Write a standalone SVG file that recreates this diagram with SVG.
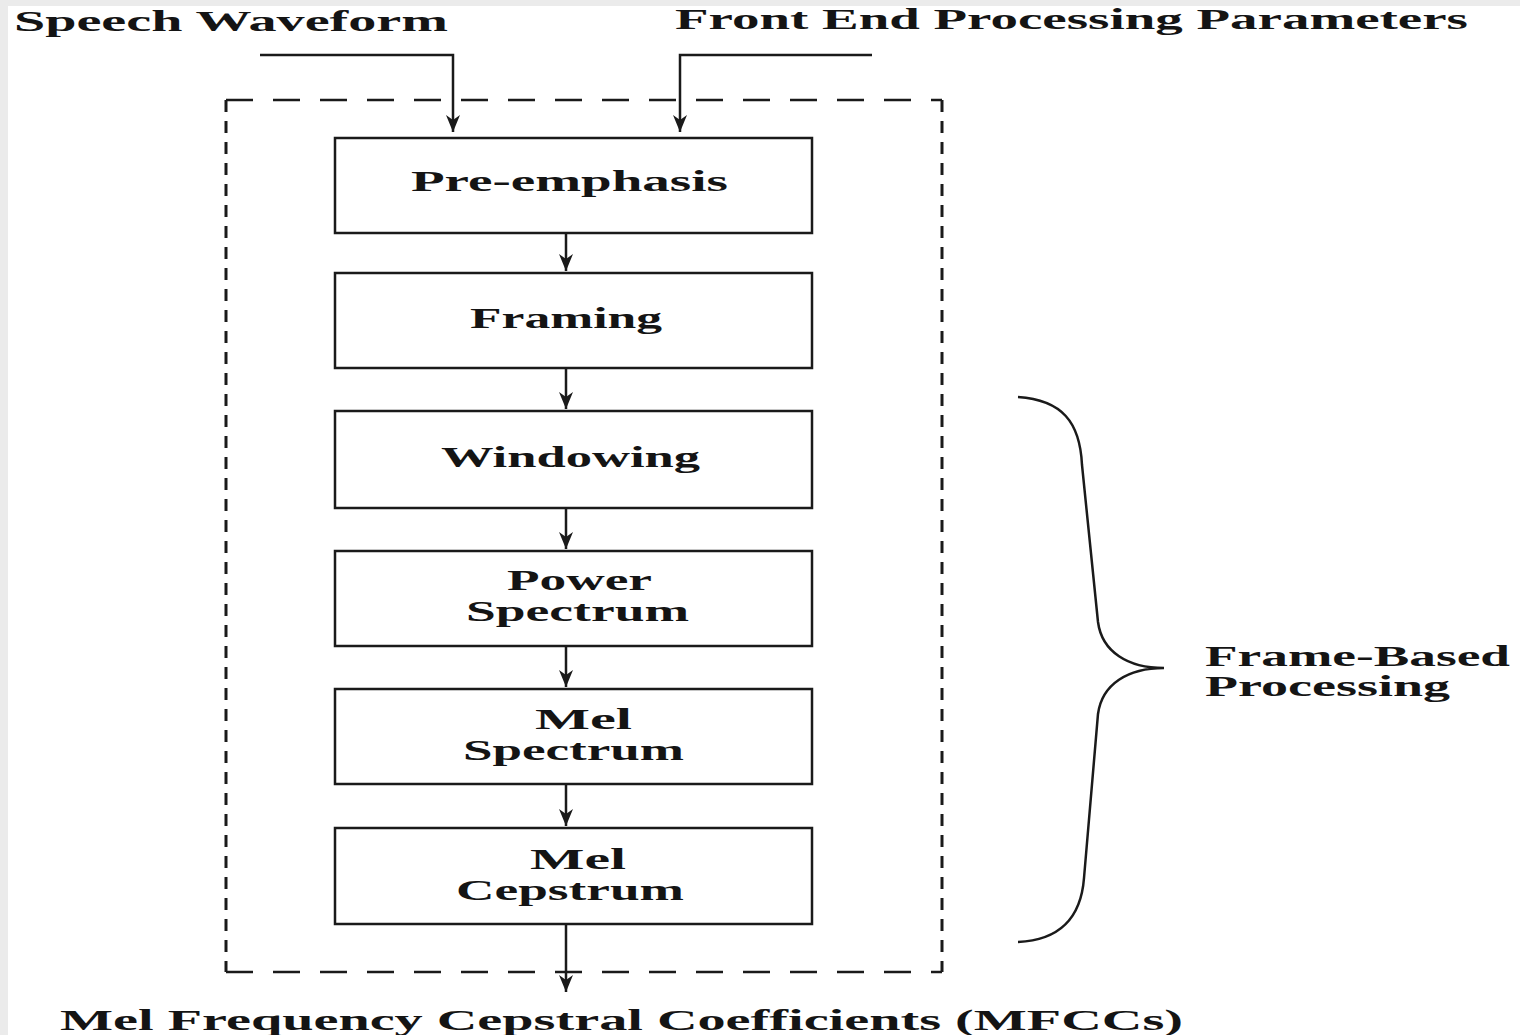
<svg xmlns="http://www.w3.org/2000/svg" width="1520" height="1035" viewBox="0 0 1520 1035">
  <style>
    .lbl { font-family: "Liberation Serif", "Times New Roman", serif; font-weight: bold; fill: #141414; }
    .box { fill: #ffffff; stroke: #1a1a1a; stroke-width: 2.5; }
    .wire { fill: none; stroke: #1a1a1a; stroke-width: 2.5; }
    .dashH { fill: none; stroke: #1a1a1a; stroke-width: 2.5; stroke-dasharray: 27 20; }
    .dashV { fill: none; stroke: #1a1a1a; stroke-width: 3; stroke-dasharray: 12 9; }
    .brace { fill: none; stroke: #1a1a1a; stroke-width: 2.5; }
  </style>
  <defs>
    <marker id="arrow" markerUnits="userSpaceOnUse" markerWidth="17" markerHeight="14" viewBox="0 0 17 14" refX="17" refY="7" orient="auto">
      <path d="M0,0 L17,7 L0,14 L5,7 Z" fill="#1a1a1a"/>
    </marker>
  </defs>

  <rect x="0" y="0" width="1520" height="1035" fill="#ffffff"/>
  <!-- pale margin strips along the top and left edges -->
  <rect x="0" y="0" width="1520" height="6" fill="#ebebeb"/>
  <rect x="0" y="0" width="8" height="1035" fill="#ebebeb"/>

  <!-- input / output labels -->
  <g id="inputs">
    <text class="lbl" x="14" y="31" font-size="29" textLength="434" lengthAdjust="spacingAndGlyphs">Speech Waveform</text>
    <text class="lbl" x="675" y="29" font-size="29" textLength="793" lengthAdjust="spacingAndGlyphs">Front End Processing Parameters</text>
  </g>
  <g id="output">
    <text class="lbl" x="60" y="1030" font-size="29" textLength="1123" lengthAdjust="spacingAndGlyphs">Mel Frequency Cepstral Coefficients (MFCCs)</text>
  </g>

  <!-- dashed enclosure of the front end -->
  <g id="frontend-frame">
    <line class="dashH" x1="226" y1="100" x2="942" y2="100"/>
    <line class="dashH" x1="226" y1="972" x2="942" y2="972"/>
    <line class="dashV" x1="226" y1="100" x2="226" y2="972"/>
    <line class="dashV" x1="942" y1="100" x2="942" y2="972"/>
  </g>

  <!-- processing stages -->
  <g id="pre-emphasis">
    <rect class="box" x="335" y="138" width="477" height="95"/>
    <text class="lbl" x="411" y="191" font-size="30" textLength="317" lengthAdjust="spacingAndGlyphs">Pre-emphasis</text>
  </g>
  <g id="framing">
    <rect class="box" x="335" y="273" width="477" height="95"/>
    <text class="lbl" x="470" y="328" font-size="30" textLength="192" lengthAdjust="spacingAndGlyphs">Framing</text>
  </g>
  <g id="windowing">
    <rect class="box" x="335" y="411" width="477" height="97"/>
    <text class="lbl" x="441" y="467" font-size="30" textLength="259" lengthAdjust="spacingAndGlyphs">Windowing</text>
  </g>
  <g id="power-spectrum">
    <rect class="box" x="335" y="551" width="477" height="95"/>
    <text class="lbl" x="507" y="590" font-size="30" textLength="145" lengthAdjust="spacingAndGlyphs">Power</text>
    <text class="lbl" x="466" y="621" font-size="30" textLength="223" lengthAdjust="spacingAndGlyphs">Spectrum</text>
  </g>
  <g id="mel-spectrum">
    <rect class="box" x="335" y="689" width="477" height="95"/>
    <text class="lbl" x="535" y="729" font-size="30" textLength="97" lengthAdjust="spacingAndGlyphs">Mel</text>
    <text class="lbl" x="463" y="760" font-size="30" textLength="221" lengthAdjust="spacingAndGlyphs">Spectrum</text>
  </g>
  <g id="mel-cepstrum">
    <rect class="box" x="335" y="828" width="477" height="96"/>
    <text class="lbl" x="530" y="869" font-size="30" textLength="96" lengthAdjust="spacingAndGlyphs">Mel</text>
    <text class="lbl" x="456" y="900" font-size="30" textLength="228" lengthAdjust="spacingAndGlyphs">Cepstrum</text>
  </g>

  <!-- brace grouping the per-frame stages -->
  <g id="frame-based">
    <path class="brace" d="M1018,397 C1062,400 1080,422 1082,465 L1098,622 C1102,652 1128,668 1164,668 C1128,668 1102,684 1098,714 L1084,878 C1081,918 1060,940 1018,942"/>
    <text class="lbl" x="1205" y="666" font-size="30" textLength="305" lengthAdjust="spacingAndGlyphs">Frame-Based</text>
    <text class="lbl" x="1205" y="696" font-size="30" textLength="245" lengthAdjust="spacingAndGlyphs">Processing</text>
  </g>

  <!-- connectors -->
  <g id="connectors">
    <polyline class="wire" points="260,55 453,55 453,132" marker-end="url(#arrow)"/>
    <polyline class="wire" points="872,55 680,55 680,132" marker-end="url(#arrow)"/>
    <line class="wire" x1="566" y1="233" x2="566" y2="271" marker-end="url(#arrow)"/>
    <line class="wire" x1="566" y1="368" x2="566" y2="409" marker-end="url(#arrow)"/>
    <line class="wire" x1="566" y1="508" x2="566" y2="549" marker-end="url(#arrow)"/>
    <line class="wire" x1="566" y1="646" x2="566" y2="687" marker-end="url(#arrow)"/>
    <line class="wire" x1="566" y1="784" x2="566" y2="826" marker-end="url(#arrow)"/>
    <line class="wire" x1="566" y1="924" x2="566" y2="992" marker-end="url(#arrow)"/>
  </g>
</svg>
